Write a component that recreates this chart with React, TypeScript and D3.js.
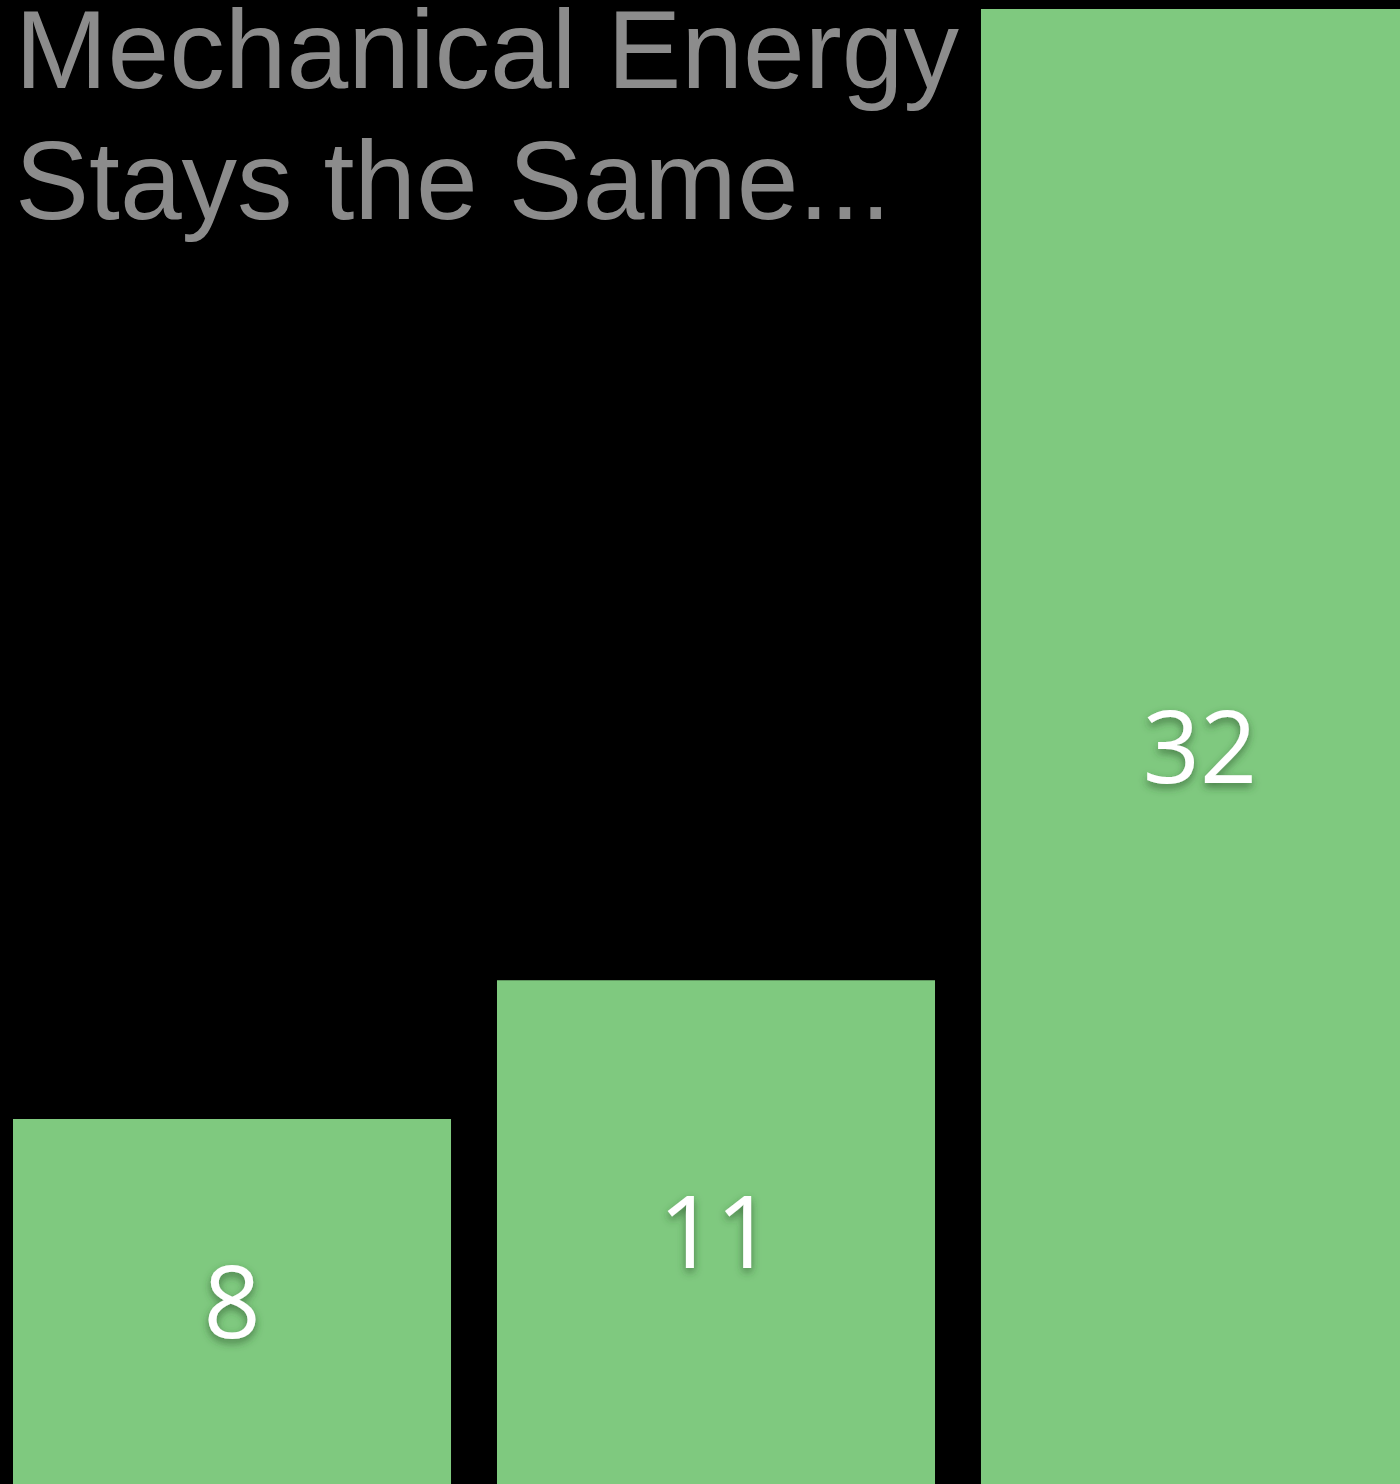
import React from "react";
import * as d3 from "d3";

const categories = ["A", "B", "C"];
const values = [8, 11, 32];
const labels = ["8", "11", "32"];
const titleLines = ["Mechanical Energy", "Stays the Same..."];

const W = 1400;
const H = 1484;

export default function App() {
  const x = d3.scaleBand<string>().domain(categories).range([13, 1419]).paddingInner(0.095).paddingOuter(0);
  const y = d3.scaleLinear().domain([0, 32]).range([1489, 9]);
  const bw = x.bandwidth();
  return (
    <svg
      width={W}
      height={H}
      style={{ position: "absolute", left: 0, top: 0, background: "#000", display: "block" }}
    >
      <defs>
        <filter id="shadow" x="-20%" y="-20%" width="140%" height="150%">
          <feDropShadow dx="0" dy="4" stdDeviation="4" floodColor="#2f5a2f" floodOpacity="0.7" />
        </filter>
        <clipPath id="clip">
          <rect x={0} y={0} width={W} height={H} />
        </clipPath>
      </defs>
      <rect x={0} y={0} width={W} height={H} fill="#000" />
      <g clipPath="url(#clip)">
        {categories.map((c, i) => (
          <rect key={c} x={x(c)} y={y(values[i])} width={bw} height={y(0) - y(values[i])} fill="#7fc97f" />
        ))}
        {categories.map((c, i) => (
          <text
            key={"l" + c}
            x={(x(c) as number) + bw / 2}
            y={(y(values[i]) + H) / 2 + 36}
            textAnchor="middle"
            fill="#fff"
            fontFamily="'Open Sans', 'Noto Sans', sans-serif"
            fontSize={100}
            filter="url(#shadow)"
          >
            {labels[i]}
          </text>
        ))}
      </g>
      {titleLines.map((t, i) => (
        <text
          key={t}
          x={15}
          y={88 + i * 131}
          fill="#8c8c8c"
          fontFamily="'Liberation Sans', Arial, Helvetica, sans-serif"
          fontSize={111}
        >
          {t}
        </text>
      ))}
    </svg>
  );
}
